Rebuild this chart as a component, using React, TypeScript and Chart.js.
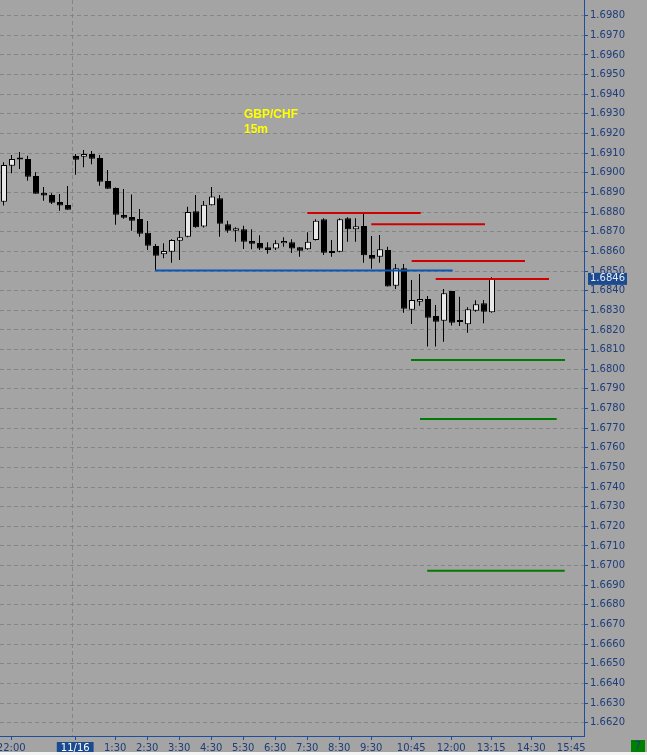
import { useEffect, useRef } from 'react';
import { Chart, registerables } from 'chart.js';

Chart.register(...registerables);

// 15-minute GBP/CHF candles (bar index 0..61)
const opens = [
  1.68853, 1.69036, 1.69070, 1.69070, 1.68984, 1.68899, 1.68887, 1.68851, 1.68836, 1.69086,
  1.69082, 1.69096, 1.69075, 1.68958, 1.68923, 1.68785, 1.68775, 1.68765, 1.68695, 1.68627,
  1.68585, 1.68598, 1.68654, 1.68675, 1.68804, 1.68726, 1.68835, 1.68870, 1.68738, 1.68705,
  1.68712, 1.68653, 1.68643, 1.68621, 1.68614, 1.68641, 1.68647, 1.68621, 1.68611, 1.68658,
  1.68763, 1.68595, 1.68598, 1.68768, 1.68712, 1.68729, 1.68582, 1.68573, 1.68607, 1.68425,
  1.68514, 1.68303, 1.68344, 1.68358, 1.68271, 1.68247, 1.68398, 1.68243, 1.68229, 1.68298,
  1.68336, 1.68290,
];
const highs = [
  1.69054, 1.69091, 1.69106, 1.69087, 1.69003, 1.68928, 1.68896, 1.68892, 1.68933, 1.69096,
  1.69116, 1.69111, 1.69091, 1.69014, 1.68925, 1.68918, 1.68889, 1.68816, 1.68755, 1.68638,
  1.68641, 1.68662, 1.68704, 1.68827, 1.68887, 1.68857, 1.68928, 1.68887, 1.68756, 1.68723,
  1.68731, 1.68712, 1.68682, 1.68646, 1.68656, 1.68672, 1.68662, 1.68622, 1.68697, 1.68763,
  1.68768, 1.68658, 1.68768, 1.68774, 1.68768, 1.68794, 1.68678, 1.68683, 1.68624, 1.68536,
  1.68536, 1.68454, 1.68485, 1.68373, 1.68327, 1.68408, 1.68398, 1.68369, 1.68315, 1.68351,
  1.68352, 1.68468,
];
const lows = [
  1.68833, 1.68998, 1.69020, 1.68960, 1.68894, 1.68858, 1.68841, 1.68807, 1.68812, 1.68990,
  1.69028, 1.69043, 1.68934, 1.68919, 1.68736, 1.68766, 1.68705, 1.68675, 1.68607, 1.68502,
  1.68565, 1.68542, 1.68556, 1.68672, 1.68720, 1.68721, 1.68833, 1.68675, 1.68695, 1.68649,
  1.68612, 1.68611, 1.68607, 1.68588, 1.68607, 1.68624, 1.68592, 1.68573, 1.68608, 1.68655,
  1.68582, 1.68573, 1.68595, 1.68649, 1.68649, 1.68542, 1.68512, 1.68542, 1.68421, 1.68408,
  1.68288, 1.68230, 1.68323, 1.68115, 1.68115, 1.68140, 1.68222, 1.68220, 1.68186, 1.68293,
  1.68234, 1.68288,
];
const closes = [
  1.69040, 1.69070, 1.69068, 1.68980, 1.68894, 1.68884, 1.68848, 1.68833, 1.68812, 1.69067,
  1.69096, 1.69072, 1.68955, 1.68919, 1.68787, 1.68771, 1.68756, 1.68690, 1.68629, 1.68578,
  1.68602, 1.68658, 1.68672, 1.68801, 1.68723, 1.68838, 1.68880, 1.68741, 1.68705, 1.68718,
  1.68649, 1.68639, 1.68614, 1.68607, 1.68641, 1.68653, 1.68615, 1.68603, 1.68649, 1.68756,
  1.68593, 1.68592, 1.68763, 1.68712, 1.68728, 1.68580, 1.68563, 1.68611, 1.68421, 1.68514,
  1.68308, 1.68352, 1.68358, 1.68262, 1.68242, 1.68387, 1.68237, 1.68240, 1.68305, 1.68331,
  1.68293, 1.68460,
];

// horizontal drawn levels: price, start bar, end bar, colour
const levelPrices = [1.68502, 1.68795, 1.68738, 1.68551, 1.68459, 1.68047, 1.67747, 1.66974];
const levelStarts = [18.91, 37.91, 45.91, 50.96, 53.96, 50.875, 52.0, 52.9];
const levelEnds = [56.09, 52.09, 60.125, 65.125, 68.125, 70.125, 69.09, 70.09];
const levelColors = ['#0a56b4', '#d00000', '#d00000', '#d00000', '#d00000', '#007a00', '#007a00', '#007a00'];

const dayBreak = 8.5625;

const xTickIndex = [0, 8, 13, 17, 21, 25, 29, 33, 37, 41, 45, 50, 55, 60, 65, 70];
const xTickLabels = ['22:00', '11/16', '1:30', '2:30', '3:30', '4:30', '5:30', '6:30', '7:30', '8:30', '9:30', '10:45', '12:00', '13:15', '14:30', '15:45'];
const yTickLabels = [
  '1.6620', '1.6630', '1.6640', '1.6650', '1.6660', '1.6670', '1.6680', '1.6690', '1.6700', '1.6710',
  '1.6720', '1.6730', '1.6740', '1.6750', '1.6760', '1.6770', '1.6780', '1.6790', '1.6800', '1.6810',
  '1.6820', '1.6830', '1.6840', '1.6850', '1.6860', '1.6870', '1.6880', '1.6890', '1.6900', '1.6910',
  '1.6920', '1.6930', '1.6940', '1.6950', '1.6960', '1.6970', '1.6980',
];
const lastPriceLabel = '1.6846';

const Y_MIN = 1.661324;
const Y_MAX = 1.698799;
const X_MIN = -0.5;
const X_MAX = 72.5;

const BG = '#a4a4a4';
const GRID = '#858585';
const AXIS = '#1f4e9e';
const LABEL = '#1f3d7a';
const HILITE = '#1c4a8e';
const UP = '#e8e8e8';
const DOWN = '#000000';
const TRANSPARENT = 'rgba(0,0,0,0)';
const FONT = { family: 'DejaVu Sans', size: 10 };

export default function App() {
  const ref = useRef<HTMLCanvasElement>(null);

  useEffect(() => {
    const canvas = ref.current;
    if (!canvas) return;
    const idx = opens.map((_, i) => i);
    const bodies = idx.map((i) => ({ x: i, y: [opens[i], closes[i]] }));
    const wicks = idx.map((i) => ({ x: i - 0.0625, y: [lows[i], highs[i]] }));
    const bodyColors = idx.map((i) => (closes[i] >= opens[i] ? UP : DOWN));

    const levelSets: any[] = levelPrices.map((p, k) => ({
      type: 'line',
      data: [
        { x: levelStarts[k], y: p },
        { x: levelEnds[k], y: p },
      ],
      borderColor: levelColors[k],
      borderWidth: 2,
      pointRadius: 0,
      fill: false,
      order: 0,
    }));

    const titlePlugin = {
      id: 'symbolTitle',
      afterDraw(chart: any) {
        const ctx = chart.ctx;
        ctx.save();
        ctx.fillStyle = '#ffff00';
        ctx.font = 'bold 12px "Liberation Sans", Arial, sans-serif';
        ctx.textAlign = 'left';
        ctx.textBaseline = 'alphabetic';
        ctx.fillText('GBP/CHF', 244, 118);
        ctx.fillText('15m', 244, 133);
        ctx.restore();
      },
    };

    const chart = new Chart(canvas, {
      type: 'bar',
      data: {
        datasets: [
          ...levelSets,
          {
            type: 'bar',
            data: bodies as any,
            backgroundColor: bodyColors,
            borderColor: '#000000',
            borderWidth: 1,
            borderSkipped: false,
            barThickness: 6,
            grouped: false,
            minBarLength: 2,
            inflateAmount: 0,
            order: 1,
          } as any,
          {
            type: 'bar',
            data: wicks as any,
            backgroundColor: '#000000',
            borderWidth: 0,
            barThickness: 1,
            grouped: false,
            inflateAmount: 0,
            order: 2,
          } as any,
          {
            type: 'line',
            data: [
              { x: dayBreak, y: Y_MAX },
              { x: dayBreak, y: Y_MIN },
            ],
            borderColor: GRID,
            borderWidth: 1,
            borderDash: [4, 3],
            pointRadius: 0,
            order: 3,
          } as any,
        ],
      },
      options: {
        animation: false,
        responsive: false,
        devicePixelRatio: 1,
        layout: { padding: 0 },
        plugins: { legend: { display: false }, tooltip: { enabled: false } },
        events: [],
        scales: {
          x: {
            type: 'linear',
            min: X_MIN,
            max: X_MAX,
            bounds: 'data',
            offset: false,
            position: 'bottom',
            afterBuildTicks: (scale: any) => {
              scale.ticks = xTickIndex.map((i) => ({ value: i + 0.9 }));
            },
            afterFit: (scale: any) => {
              scale.height = 16;
              scale.paddingLeft = 0;
              scale.paddingRight = 0;
              scale.paddingTop = 0;
              scale.paddingBottom = 0;
            },
            ticks: {
              autoSkip: false,
              maxRotation: 0,
              minRotation: 0,
              padding: 2,
              font: FONT,
              color: (ctx: any) => (ctx.index === 1 ? '#ffffff' : LABEL),
              showLabelBackdrop: true,
              backdropColor: (ctx: any) => (ctx.index === 1 ? HILITE : TRANSPARENT),
              backdropPadding: { left: 4, right: 4, top: 0, bottom: 0 },
              callback: (_v: any, i: number) => xTickLabels[i],
            },
            grid: {
              offset: false,
              drawOnChartArea: false,
              drawTicks: true,
              tickLength: 4,
              tickColor: AXIS,
              tickBorderDash: [],
            },
            border: { color: AXIS, width: 1 },
          } as any,
          y: {
            type: 'linear',
            position: 'right',
            min: Y_MIN,
            max: Y_MAX,
            bounds: 'data',
            beginAtZero: false,
            afterBuildTicks: (scale: any) => {
              const t = yTickLabels.map((s) => ({ value: Number(s) }));
              t.push({ value: Number(lastPriceLabel) });
              scale.ticks = t;
            },
            afterFit: (scale: any) => {
              scale.width = 63;
              scale.paddingLeft = 0;
              scale.paddingRight = 0;
              scale.paddingTop = 0;
              scale.paddingBottom = 0;
            },
            ticks: {
              autoSkip: false,
              padding: 2,
              font: FONT,
              color: (ctx: any) => (ctx.index === yTickLabels.length ? '#e6ecf5' : LABEL),
              showLabelBackdrop: true,
              backdropColor: (ctx: any) => (ctx.index === yTickLabels.length ? HILITE : TRANSPARENT),
              backdropPadding: { left: 2, right: 2, top: 0, bottom: 0 },
              callback: (_v: any, i: number) => (i < yTickLabels.length ? yTickLabels[i] : lastPriceLabel),
            },
            grid: {
              color: (ctx: any) => (ctx.index === yTickLabels.length ? TRANSPARENT : GRID),
              tickColor: (ctx: any) => (ctx.index === yTickLabels.length ? TRANSPARENT : AXIS),
              tickLength: 4,
              lineWidth: 1,
              tickBorderDash: [],
            },
            border: { color: AXIS, width: 1, dash: [4, 3] },
          } as any,
        },
      },
      plugins: [titlePlugin],
    } as any);

    return () => chart.destroy();
  }, []);

  return (
    <div style={{ position: 'absolute', left: 0, top: 0, width: 647, height: 755, background: '#f4f4f4', overflow: 'hidden' }}>
      <canvas ref={ref} width={647} height={752} style={{ display: 'block', width: 647, height: 752, background: BG }} />
      <div
        style={{
          position: 'absolute',
          left: 631,
          top: 740,
          width: 14,
          height: 12,
          background: '#008000',
          color: LABEL,
          fontFamily: '"DejaVu Sans", sans-serif',
          fontSize: 10,
          lineHeight: '12px',
          textAlign: 'center',
        }}
      >
        7
      </div>
    </div>
  );
}
